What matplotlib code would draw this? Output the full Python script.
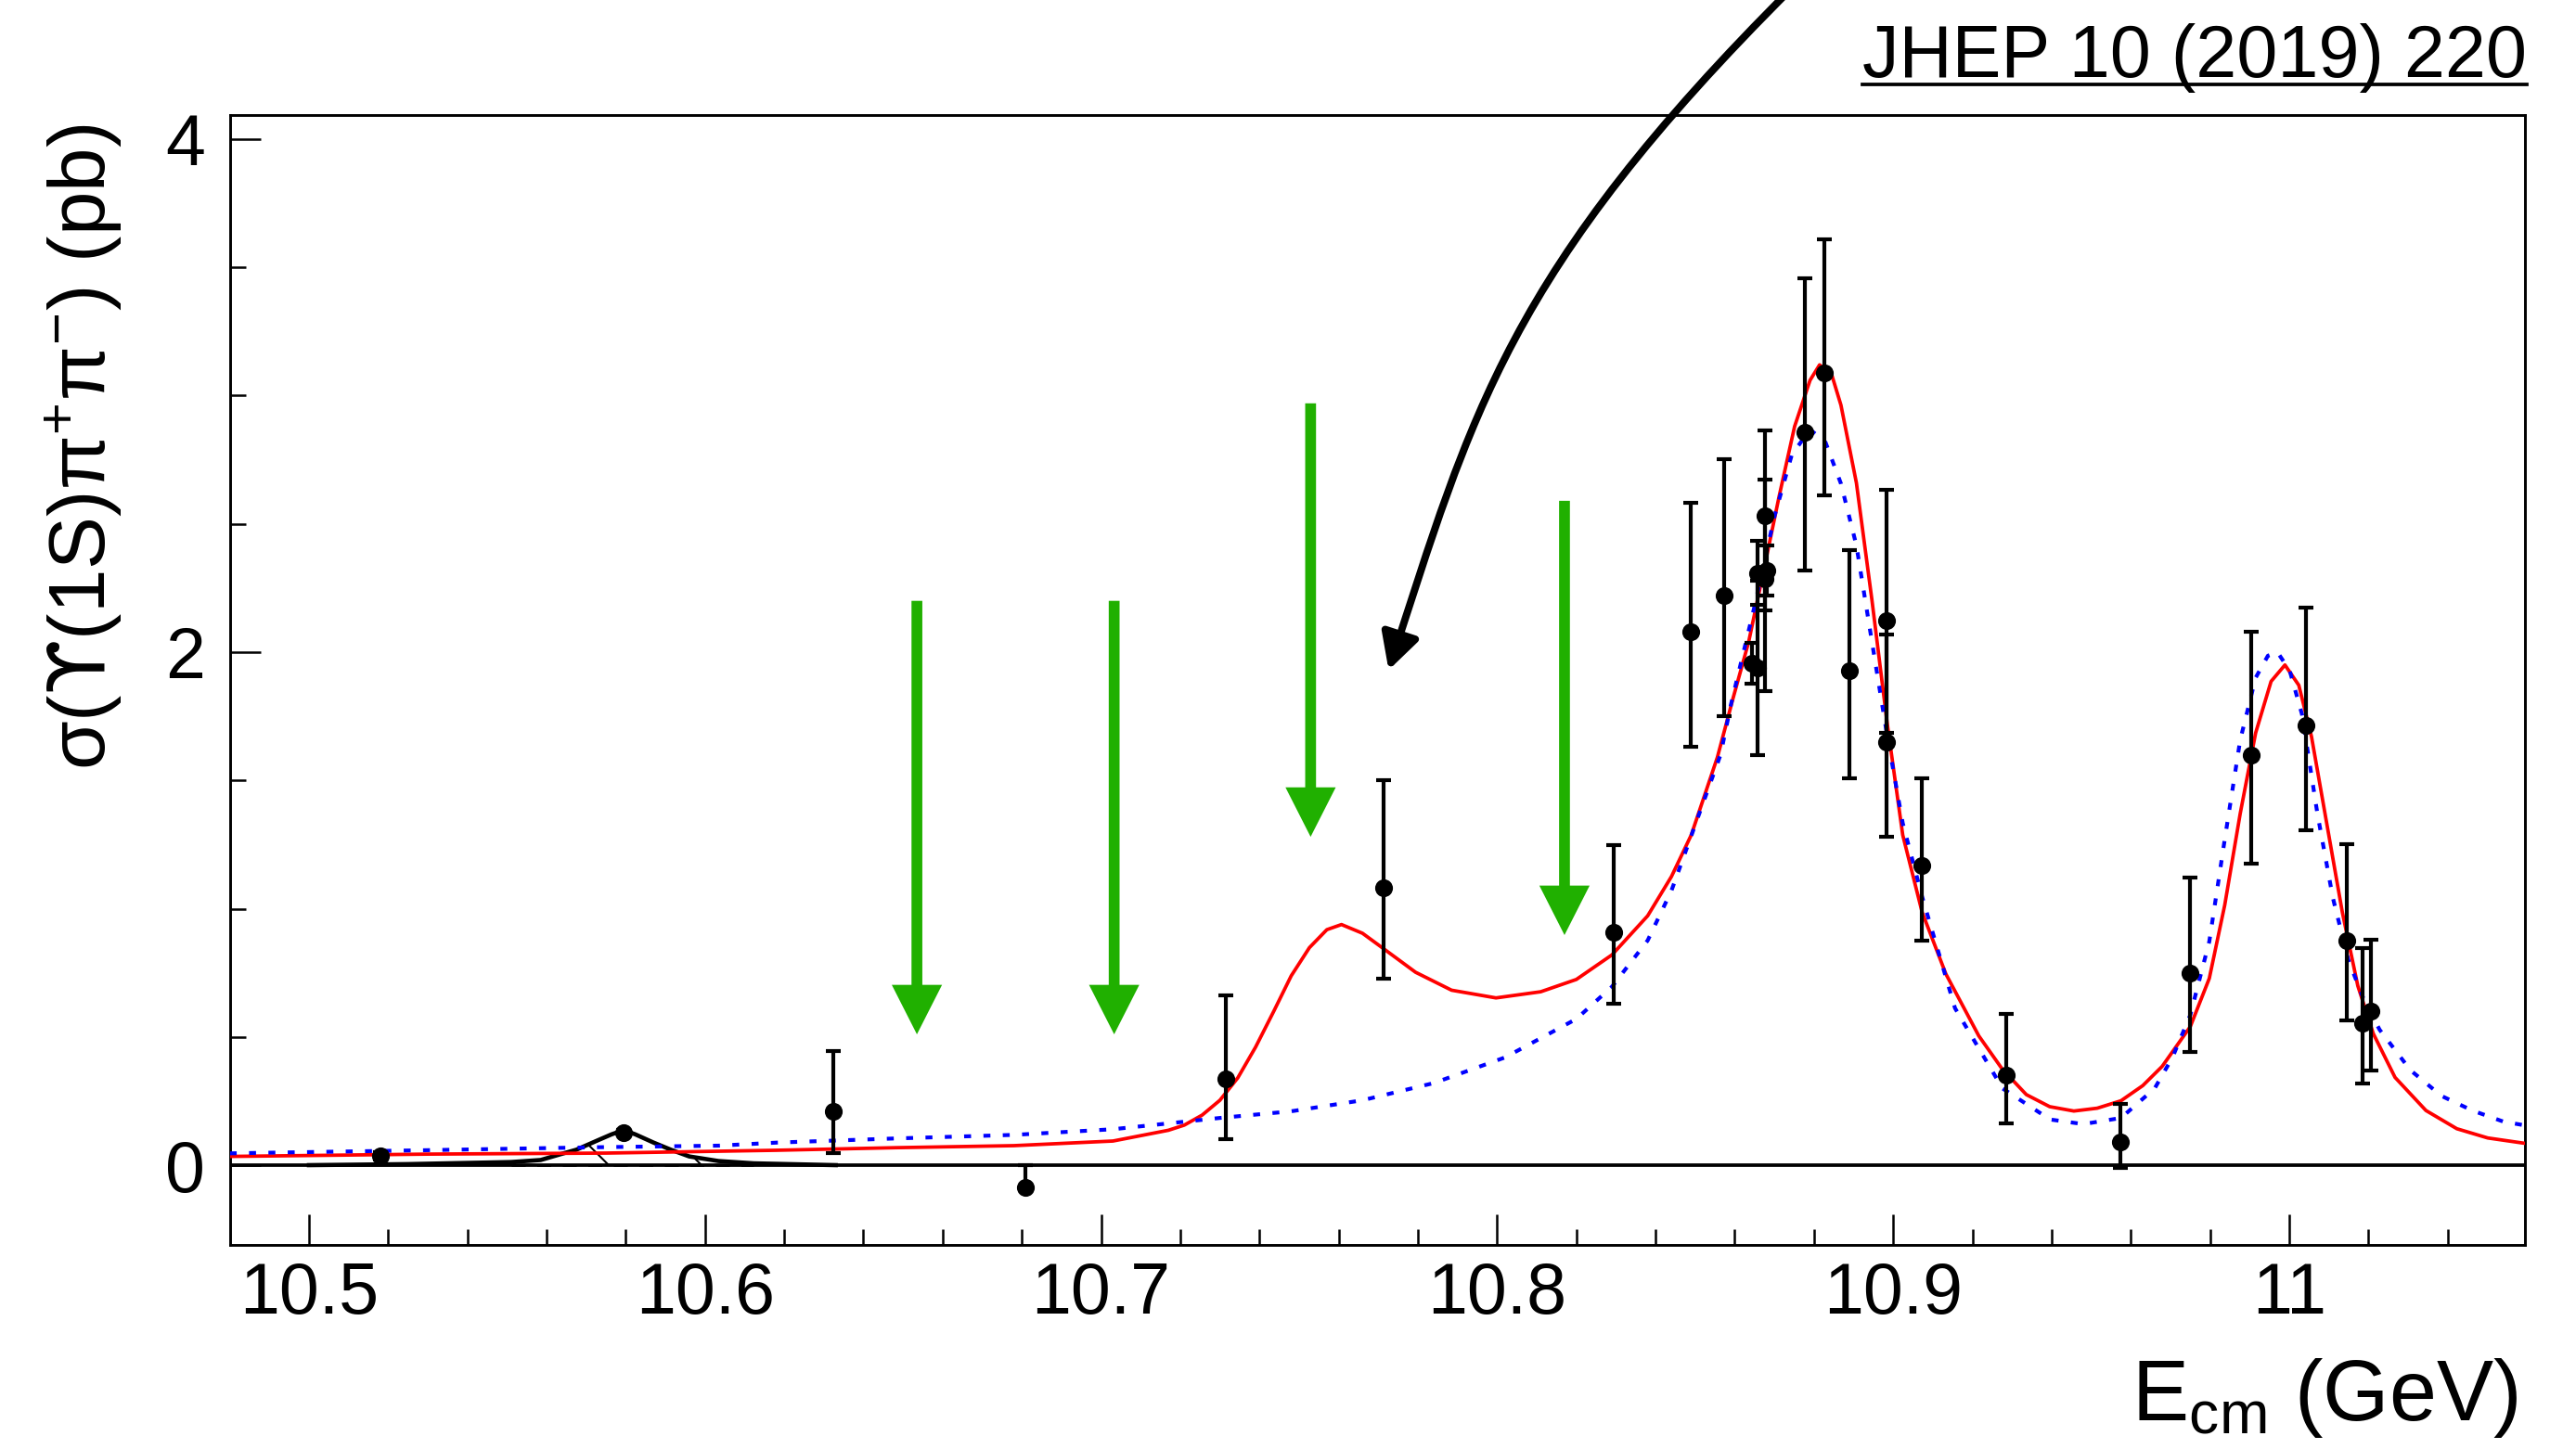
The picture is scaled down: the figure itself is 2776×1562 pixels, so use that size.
import matplotlib
matplotlib.use('Agg')
import matplotlib.pyplot as plt
import numpy as np
from matplotlib.patches import FancyArrowPatch, ArrowStyle
from matplotlib.path import Path
from matplotlib.ticker import MultipleLocator, FuncFormatter
from matplotlib.lines import Line2D

plt.rcParams['font.family'] = ['Liberation Sans', 'DejaVu Sans']
plt.rcParams['mathtext.fontset'] = 'custom'
plt.rcParams['mathtext.rm'] = 'Liberation Sans'
plt.rcParams['mathtext.it'] = 'Liberation Sans:italic'
plt.rcParams['mathtext.bf'] = 'Liberation Sans:bold'
plt.rcParams['mathtext.sf'] = 'DejaVu Sans'
plt.rcParams['hatch.linewidth'] = 0.5

# ---------------- data ----------------
# measured points: energy (GeV), cross section (pb), asymmetric errors
pt_x = [10.518, 10.5795, 10.6324, 10.681, 10.7315, 10.7714, 10.8295, 10.8488,
        10.8572, 10.8644, 10.8658, 10.8658, 10.8680, 10.8675, 10.8677, 10.8777,
        10.8827, 10.8889, 10.8982, 10.8982, 10.9072, 10.9285, 10.9573, 10.975,
        10.9903, 11.0041, 11.0146, 11.0184, 11.0207]
pt_y = [0.037, 0.128, 0.21, -0.087, 0.336, 1.081, 0.908, 2.08,
        2.222, 1.957, 1.938, 2.308, 2.32, 2.285, 2.532, 2.857,
        3.088, 1.928, 2.124, 1.65, 1.167, 0.351, 0.09, 0.75,
        1.6, 1.714, 0.874, 0.555, 0.60]
pt_err_lo = [0.015, 0.01, 0.162, 0.0, 0.235, 0.354, 0.279, 0.45,
             0.47, 0.08, 0.34, 0.122, 0.10, 0.437, 0.37, 0.54,
             0.475, 0.42, 0.44, 0.37, 0.29, 0.19, 0.10, 0.31,
             0.425, 0.41, 0.31, 0.235, 0.23]
pt_err_hi = [0.015, 0.01, 0.234, 0.087, 0.326, 0.42, 0.338, 0.504,
             0.53, 0.08, 0.34, 0.125, 0.095, 0.386, 0.331, 0.60,
             0.52, 0.47, 0.51, 0.42, 0.34, 0.24, 0.15, 0.37,
             0.48, 0.46, 0.376, 0.29, 0.28]

# red fit curve (with Y(10750))
red_x = [10.48, 10.53, 10.575, 10.618, 10.648, 10.678, 10.703, 10.712, 10.717,
         10.721, 10.7255, 10.730, 10.7345, 10.739, 10.7436, 10.748, 10.7526,
         10.757, 10.7607, 10.766, 10.7714, 10.7794, 10.7885, 10.7997, 10.811,
         10.82, 10.829, 10.838, 10.844, 10.849, 10.8556, 10.8595, 10.8635,
         10.8673, 10.8712, 10.8751, 10.879, 10.8814, 10.8845, 10.8868, 10.8907,
         10.8946, 10.8985, 10.9024, 10.9073, 10.9133, 10.9216, 10.9275, 10.9336,
         10.9395, 10.9456, 10.9515, 10.9575, 10.963, 10.9679, 10.975,
         10.9798, 10.9837, 10.9876, 10.9915, 10.9954, 10.9989, 11.0024, 11.0056,
         11.0095, 11.0134, 11.0173, 11.0212, 11.0267, 11.0345, 11.0423, 11.0501,
         11.0595]
red_y = [0.034, 0.043, 0.047, 0.058, 0.068, 0.076, 0.094, 0.121, 0.136,
         0.156, 0.195, 0.253, 0.34, 0.46, 0.60, 0.738, 0.848,
         0.918, 0.938, 0.904, 0.843, 0.752, 0.682, 0.652, 0.676,
         0.724, 0.82, 0.972, 1.125, 1.287, 1.59, 1.817, 2.04,
         2.318, 2.608, 2.88, 3.06, 3.12, 3.08, 2.963, 2.66,
         2.206, 1.72, 1.287, 0.986, 0.745, 0.504, 0.375, 0.275,
         0.228, 0.211, 0.222, 0.251, 0.31, 0.385, 0.54,
         0.728, 1.014, 1.37, 1.685, 1.886, 1.95, 1.871, 1.671,
         1.328, 0.985, 0.699, 0.513, 0.342, 0.213, 0.142, 0.106,
         0.085]

# blue dotted fit curve (without Y(10750))
blue_x = [10.48, 10.5286, 10.5735, 10.6034, 10.6183, 10.648, 10.678, 10.703,
          10.730, 10.748, 10.766, 10.784, 10.802, 10.82, 10.829, 10.838, 10.844,
          10.8564, 10.859, 10.865, 10.870, 10.8744, 10.879, 10.8829, 10.8868,
          10.8907, 10.8946, 10.8985, 10.9024, 10.9073, 10.9156, 10.9276, 10.9396,
          10.948, 10.9575, 10.966, 10.9705, 10.975, 10.9798, 10.9837, 10.9876,
          10.9915, 10.9946, 10.997, 11.0001, 11.0032, 11.0071, 11.011, 11.0149,
          11.0189, 11.0228, 11.0306, 11.0384, 11.0462, 11.054, 11.0595]
blue_y = [0.046, 0.058, 0.07, 0.076, 0.088, 0.104, 0.118, 0.14,
          0.184, 0.21, 0.253, 0.32, 0.42, 0.57, 0.696, 0.876, 1.07,
          1.60, 1.794, 2.18, 2.529, 2.77, 2.868, 2.818, 2.657,
          2.416, 2.043, 1.672, 1.333, 1.046, 0.612, 0.299, 0.178,
          0.16, 0.184, 0.299, 0.42, 0.585, 0.872, 1.27, 1.657,
          1.9, 1.986, 2.0, 1.928, 1.758, 1.37, 1.042, 0.8,
          0.642, 0.528, 0.37, 0.27, 0.213, 0.17, 0.155]

# black Y(4S) component
bump_x = [10.50, 10.525, 10.551, 10.5585, 10.5645, 10.5675, 10.5734, 10.5764,
          10.5795, 10.5824, 10.587, 10.5914, 10.596, 10.6034, 10.6123, 10.633]
bump_y = [0.0, 0.004, 0.012, 0.02, 0.047, 0.06, 0.10, 0.12,
          0.137, 0.12, 0.088, 0.06, 0.034, 0.016, 0.007, 0.0]
hatch_lo, hatch_hi = 10.551, 10.6123

# green arrows (energy, top, tip)
arrow_x = [10.6535, 10.7033, 10.7529, 10.817]
arrow_top = [2.2, 2.2, 2.97, 2.59]
arrow_tip = [0.51, 0.51, 1.28, 0.897]

# black curved arrow control points (data coords)
curve_arrow = [(10.8745, 4.59), (10.8024, 3.4807), (10.7935, 2.9222), (10.7726, 1.9302)]

x_ticks_major = 0.1
y_ticks_major = 2

# ---------------- figure ----------------
W, H, DPI = 2776, 1562, 300
fig = plt.figure(figsize=(W / DPI, H / DPI), dpi=DPI)
ax = fig.add_axes([248 / W, 1 - 1342 / H, (2721 - 248) / W, (1342 - 124) / H])
ax.set_xlim(10.4801, 11.0595)
ax.set_ylim(-0.311, 4.094)

ax.axhline(0, color='black', lw=0.9, zorder=2)

# Y(4S) component
bx = np.array(bump_x)
by = np.array(bump_y)
m = (bx >= hatch_lo) & (bx <= hatch_hi)
ax.fill_between(bx[m], 0, by[m], facecolor='none', edgecolor='black',
                hatch='\\', linewidth=0, zorder=2)
ax.plot([hatch_lo, hatch_hi], [0, 0], color='black', lw=0.6,
        linestyle=(0, (6, 5)), zorder=3)
ax.plot(bump_x, bump_y, color='black', lw=1.1, zorder=3)

ax.plot(red_x, red_y, color='#ff0000', lw=0.9, zorder=3)
ax.plot(blue_x, blue_y, color='#0000ff', lw=1.0, linestyle=(0, (1.8, 3.2)),
        dash_capstyle='butt', zorder=4)

ax.errorbar(pt_x, pt_y, yerr=[pt_err_lo, pt_err_hi], fmt='o', color='black',
            ms=3.6, elinewidth=1.0, capsize=2.0, capthick=1.0, zorder=5)

green = '#20b000'
for xa, top, tip in zip(arrow_x, arrow_top, arrow_tip):
    ar = FancyArrowPatch((xa, top), (xa, tip),
                         arrowstyle=ArrowStyle('simple', head_length=12.8,
                                               head_width=13, tail_width=2.8),
                         mutation_scale=1, color=green, lw=0,
                         shrinkA=0, shrinkB=0, zorder=6)
    ax.add_patch(ar)

path = Path(curve_arrow, [Path.MOVETO, Path.CURVE4, Path.CURVE4, Path.CURVE4])
carrow = FancyArrowPatch(path=path,
                         arrowstyle=ArrowStyle('-|>', head_length=7.7, head_width=4.1),
                         mutation_scale=1, color='black', lw=1.9,
                         transform=ax.transData, zorder=7)
carrow.set_clip_on(False)
ax.add_patch(carrow)

# axes styling
for s in ax.spines.values():
    s.set_linewidth(0.7)
ax.xaxis.set_major_locator(MultipleLocator(x_ticks_major))
ax.xaxis.set_minor_locator(MultipleLocator(0.02))
ax.yaxis.set_major_locator(MultipleLocator(y_ticks_major))
ax.yaxis.set_minor_locator(MultipleLocator(0.5))
ax.xaxis.set_major_formatter(FuncFormatter(lambda v, p: f'{v:.1f}'.rstrip('0').rstrip('.')))
ax.yaxis.set_major_formatter(FuncFormatter(lambda v, p: f'{v:.0f}'))
ax.tick_params(which='both', direction='in', top=False, right=False, width=0.6)
ax.tick_params(which='major', length=8)
ax.tick_params(which='minor', length=4)
ax.tick_params(axis='x', which='major', labelsize=18.5, pad=4)
ax.tick_params(axis='y', which='major', labelsize=18.5, pad=6.5)

fig.text(0.0324, 1 - 134 / H, r'σ($\mathsf{ϒ}$(1S)π$^{+}$π$^{-}$) (pb)', rotation=90,
         ha='center', va='top', fontsize=20.5)
fig.text(2713 / W, 1 - 1531 / H, r'E$_{\mathrm{cm}}$ (GeV)', ha='right',
         va='baseline', fontsize=22)

jt = fig.text(2723 / W, 1 - 83 / H, 'JHEP 10 (2019) 220', ha='right',
              va='baseline', fontsize=19)
fig.canvas.draw()
bb = jt.get_window_extent(renderer=fig.canvas.get_renderer())
uy = 1 - 91 / H
fig.add_artist(Line2D([bb.x0 / W, bb.x1 / W], [uy, uy], color='black', lw=0.9,
                      transform=fig.transFigure))

fig.savefig('out.png', dpi=DPI)
